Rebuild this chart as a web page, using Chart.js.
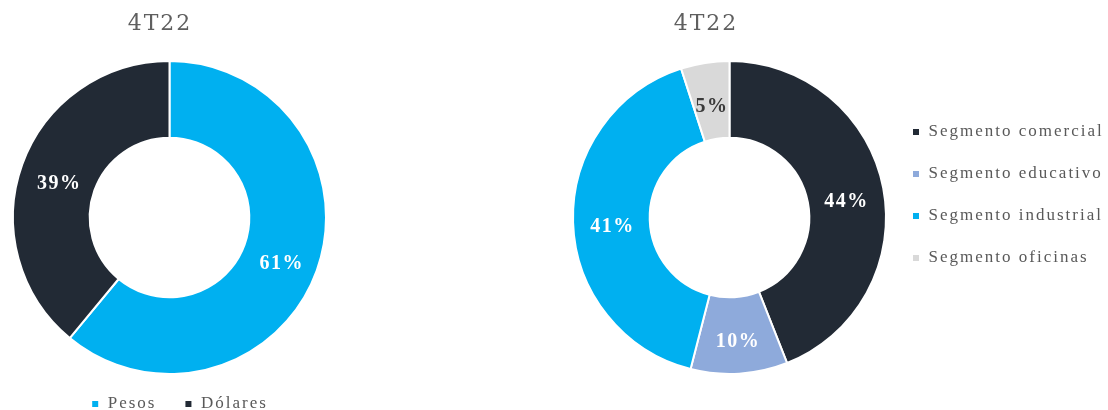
<!DOCTYPE html>
<html>
<head>
<meta charset="utf-8">
<script src="https://cdn.jsdelivr.net/npm/chart.js@4/dist/chart.umd.min.js"></script>
<style>
  html, body { margin: 0; padding: 0; background: #fff; overflow: hidden; }
  #wrap { position: relative; width: 1108px; height: 410px; }
  #currencyChart { position: absolute; left: 0; top: 0; }
  #segmentChart { position: absolute; left: 560px; top: 0; }
</style>
</head>
<body>
<div id="wrap">
  <canvas id="currencyChart" width="340" height="410"></canvas>
  <canvas id="segmentChart" width="548" height="410"></canvas>
</div>
<script>
const periodTitle = '4T22';

const currencyLabels = ['Pesos', 'Dólares'];
const currencyValues = [61, 39];

const segmentLabels = ['Segmento comercial', 'Segmento educativo', 'Segmento industrial', 'Segmento oficinas'];
const segmentValues = [44, 10, 41, 5];

const currencyColors = ['#00b0f0', '#222a35'];
const segmentColors = ['#222a35', '#8eaadb', '#00b0f0', '#d9d9d9'];
const segmentTextColors = ['#ffffff', '#ffffff', '#ffffff', '#3a3a3a'];

// wide letter spacing like the original (title + legend)
const spacing = {
  id: 'spacing',
  beforeUpdate(chart) { chart.ctx.letterSpacing = '2px'; },
  beforeDraw(chart) { chart.ctx.letterSpacing = '2px'; }
};

// move title / legend boxes after layout
const nudge = {
  id: 'nudge',
  afterLayout(chart, args, opts) {
    const t = chart.titleBlock;
    const l = chart.legend;
    if (t && opts.titleX) { t.left += opts.titleX; t.right += opts.titleX; }
    if (l) {
      const dy = opts.legendY || 0;
      l.left += opts.legendX || 0; l.right += opts.legendX || 0;
      l.top += dy;
      // only grow the box downwards, so the legend is not clipped
      l.bottom += Math.max(dy, 0);
    }
  }
};

// percent labels on the slices
const sliceLabels = {
  id: 'sliceLabels',
  afterDatasetsDraw(chart, args, opts) {
    const ctx = chart.ctx;
    const meta = chart.getDatasetMeta(0);
    const values = chart.data.datasets[0].data;
    ctx.save();
    ctx.letterSpacing = '1.5px';
    ctx.font = 'bold 20px "Liberation Serif", serif';
    ctx.textAlign = 'center';
    ctx.textBaseline = 'middle';
    meta.data.forEach((arc, i) => {
      const p = arc.tooltipPosition();
      ctx.fillStyle = opts.colors[i];
      ctx.fillText(values[i] + '%', p.x + 1, p.y + 6);
    });
    ctx.restore();
  }
};

function baseOptions() {
  return {
    responsive: false,
    animation: false,
    devicePixelRatio: 1,
    cutout: '51%',
    plugins: {
      tooltip: { enabled: false },
      title: {
        display: true,
        text: periodTitle,
        color: '#5f5f5f',
        font: { family: '"DejaVu Serif", serif', size: 22, weight: 'normal' },
        padding: { top: 11, bottom: 22.6 }
      }
    }
  };
}

const legendFont = { family: '"Liberation Serif", serif', size: 17 };

const currencyOptions = baseOptions();
currencyOptions.layout = { padding: { left: 12, right: 13 } };
currencyOptions.plugins.legend = {
  position: 'bottom',
  maxHeight: 35,
  labels: { boxWidth: 8, boxHeight: 8, padding: 28, color: '#595959', font: legendFont }
};
currencyOptions.plugins.nudge = { titleX: -9.5, legendX: 10, legendY: -7.5 };
currencyOptions.plugins.sliceLabels = { colors: ['#ffffff', '#ffffff'] };

new Chart(document.getElementById('currencyChart'), {
  type: 'doughnut',
  data: {
    labels: currencyLabels,
    datasets: [{
      data: currencyValues,
      backgroundColor: currencyColors,
      borderColor: '#ffffff',
      borderWidth: 2
    }]
  },
  options: currencyOptions,
  plugins: [spacing, nudge, sliceLabels]
});

const segmentOptions = baseOptions();
segmentOptions.layout = { padding: { left: 12, bottom: 35 } };
segmentOptions.plugins.legend = {
  position: 'right',
  maxWidth: 221,
  labels: { boxWidth: 8, boxHeight: 8, padding: 25, color: '#595959', font: legendFont }
};
segmentOptions.plugins.nudge = { titleX: -134, legendY: 7.5 };
segmentOptions.plugins.sliceLabels = { colors: segmentTextColors };

new Chart(document.getElementById('segmentChart'), {
  type: 'doughnut',
  data: {
    labels: segmentLabels,
    datasets: [{
      data: segmentValues,
      backgroundColor: segmentColors,
      borderColor: '#ffffff',
      borderWidth: 2
    }]
  },
  options: segmentOptions,
  plugins: [spacing, nudge, sliceLabels]
});
</script>
</body>
</html>
